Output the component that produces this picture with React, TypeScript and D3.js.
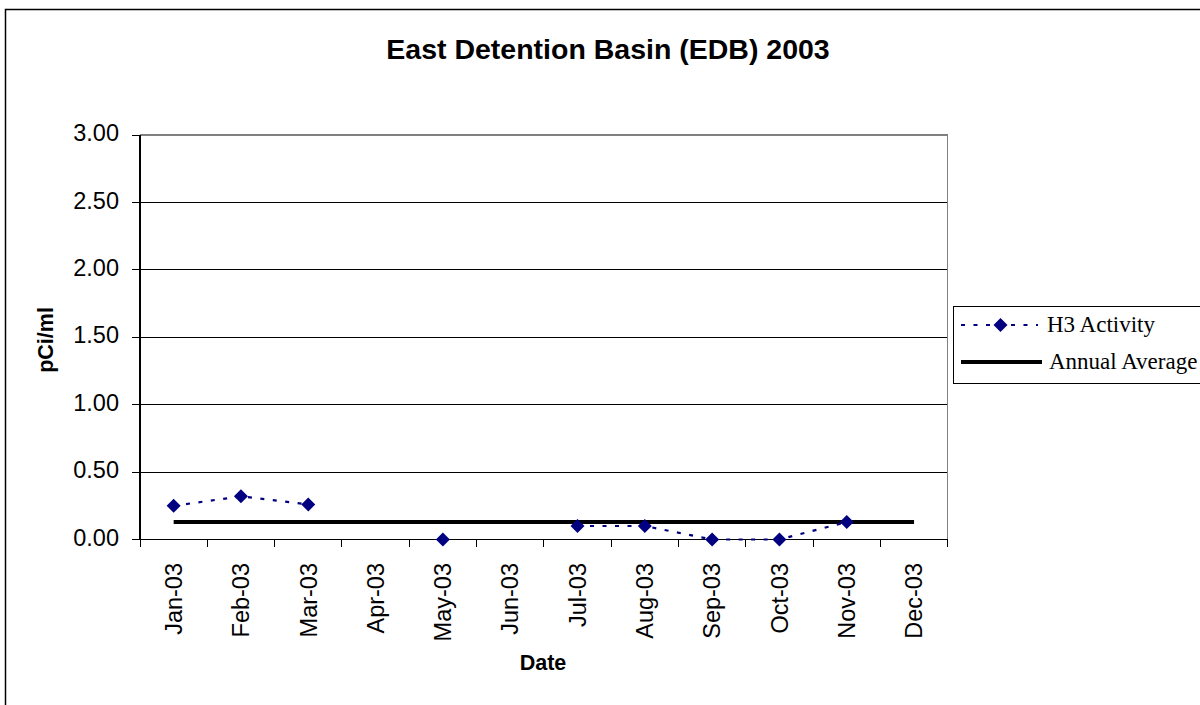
import React from "react";
import * as d3 from "d3";

// Monthly sampling categories
const months: string[] = [
  "Jan-03", "Feb-03", "Mar-03", "Apr-03", "May-03", "Jun-03",
  "Jul-03", "Aug-03", "Sep-03", "Oct-03", "Nov-03", "Dec-03",
];

// H3 activity (pCi/ml); null where no sample was taken
const h3Activity: (number | null)[] = [
  0.25, 0.32, 0.26, null, 0.0, null, 0.1, 0.1, 0.0, 0.0, 0.13, null,
];

// Annual average, drawn across every month
const annualAverage: number[] = months.map(() => 0.13);

const yTicks: number[] = [0, 0.5, 1.0, 1.5, 2.0, 2.5, 3.0];

const W = 1200;
const H = 705;
const plot = { left: 140, right: 947.7, top: 135, bottom: 539.5 };

const SANS = "'Liberation Sans', Arial, sans-serif";
const SERIF = "'Liberation Serif', 'Times New Roman', serif";
const NAVY = "#000080";

function diamond(cx: number, cy: number, r: number): string {
  return `M${cx},${cy - r}L${cx + r},${cy}L${cx},${cy + r}L${cx - r},${cy}Z`;
}

export default function App() {
  const x = d3.scaleBand<string>().domain(months).range([plot.left, plot.right]).padding(0);
  const y = d3.scaleLinear().domain([0, 3]).range([plot.bottom, plot.top]);
  const cx = (m: string) => (x(m) as number) + x.bandwidth() / 2;
  const fmt = d3.format(".2f");

  const h3Line = d3
    .line<number | null>()
    .defined((d) => d !== null)
    .x((_, i) => cx(months[i]))
    .y((d) => y(d as number));

  const avgLine = d3
    .line<number>()
    .x((_, i) => cx(months[i]))
    .y((d) => y(d));

  const tickEdges = [...months.map((m) => x(m) as number), plot.right];

  return (
    <svg
      width={W}
      height={H}
      style={{ position: "absolute", left: 0, top: 0, background: "#fff" }}
    >
      {/* chart frame */}
      <rect x={5.5} y={9.5} width={1210} height={710} fill="#fff" stroke="#000" strokeWidth={1.5} />

      {/* title */}
      <text x={608} y={58.5} textAnchor="middle" fontFamily={SANS} fontWeight="bold" fontSize={28.5} fill="#000">
        East Detention Basin (EDB) 2003
      </text>

      {/* horizontal gridlines */}
      {yTicks
        .filter((t) => t > 0 && t < 3)
        .map((t) => (
          <line key={`g${t}`} x1={plot.left} x2={plot.right} y1={y(t)} y2={y(t)} stroke="#000" strokeWidth={1} shapeRendering="crispEdges" />
        ))}

      {/* plot area border (top and right) */}
      <path
        d={`M${plot.left},${plot.top}H${plot.right}V${plot.bottom}`}
        fill="none"
        stroke="#808080"
        strokeWidth={1.5}
        shapeRendering="crispEdges"
      />

      {/* y axis */}
      <line x1={plot.left} x2={plot.left} y1={plot.top} y2={plot.bottom} stroke="#000" strokeWidth={1.2} shapeRendering="crispEdges" />
      {yTicks.map((t) => (
        <g key={`y${t}`}>
          <line x1={plot.left - 8} x2={plot.left} y1={y(t)} y2={y(t)} stroke="#000" strokeWidth={1} shapeRendering="crispEdges" />
          <text x={119} y={y(t) - 2} dy="0.35em" textAnchor="end" fontFamily={SANS} fontSize={23.5} fill="#000">
            {fmt(t)}
          </text>
        </g>
      ))}

      {/* x axis */}
      <line x1={plot.left} x2={plot.right} y1={plot.bottom} y2={plot.bottom} stroke="#000" strokeWidth={1.2} shapeRendering="crispEdges" />
      {tickEdges.map((e, i) => (
        <line key={`xt${i}`} x1={e} x2={e} y1={plot.bottom} y2={plot.bottom + 7} stroke="#000" strokeWidth={1} shapeRendering="crispEdges" />
      ))}
      {months.map((m) => (
        <text
          key={`xl${m}`}
          transform={`translate(${cx(m)},563) rotate(-90)`}
          dy="0.35em"
          textAnchor="end"
          fontFamily={SANS}
          fontSize={23.5}
          fill="#000"
        >
          {m}
        </text>
      ))}

      {/* axis titles */}
      <text transform="translate(53,340) rotate(-90)" textAnchor="middle" fontFamily={SANS} fontWeight="bold" fontSize={21.5} fill="#000">
        pCi/ml
      </text>
      <text x={543} y={670} textAnchor="middle" fontFamily={SANS} fontWeight="bold" fontSize={21.5} fill="#000">
        Date
      </text>

      {/* annual average */}
      <path d={avgLine(annualAverage) || ""} fill="none" stroke="#000" strokeWidth={4} />

      {/* H3 activity series */}
      <path d={h3Line(h3Activity) || ""} fill="none" stroke={NAVY} strokeWidth={2.2} strokeDasharray="4 8.5" />
      {h3Activity.map((v, i) =>
        v === null ? null : <path key={`m${i}`} d={diamond(cx(months[i]), y(v), 7)} fill={NAVY} />
      )}

      {/* legend */}
      <rect x={953.5} y={306.5} width={300} height={77} fill="#fff" stroke="#000" strokeWidth={1} />
      <line x1={961} x2={1038} y1={325} y2={325} stroke={NAVY} strokeWidth={2.2} strokeDasharray="4 8.5" />
      <path d={diamond(1000.5, 325, 7)} fill={NAVY} />
      <text x={1047} y={332} fontFamily={SERIF} fontSize={23} fill="#000">
        H3 Activity
      </text>
      <line x1={961} x2={1042} y1={362} y2={362} stroke="#000" strokeWidth={4} />
      <text x={1049} y={368.5} fontFamily={SERIF} fontSize={23} fill="#000">
        Annual Average
      </text>
    </svg>
  );
}
